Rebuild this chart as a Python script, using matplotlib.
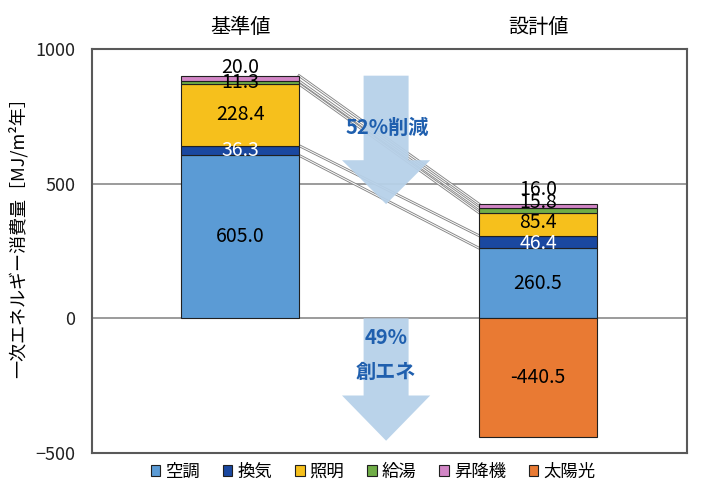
import numpy as np
import matplotlib.pyplot as plt
from matplotlib.patches import Polygon

plt.rcParams['font.family'] = ['Noto Sans CJK JP', 'DejaVu Sans']

# データ
cases = ["基準値", "設計値"]
items = ["空調", "換気", "照明", "給湯", "昇降機"]
base_vals = [605.0, 36.3, 228.4, 11.3, 20.0]
design_vals = [260.5, 46.4, 85.4, 15.8, 16.0]
solar_label = "太陽光"
solar_val = -440.5
reduce_text = "52%削減"
create_text = "49%\n創エネ"

colors = ["#5b9bd5", "#1a48a0", "#f6c01c", "#70ad47", "#d286c6"]
solar_color = "#e97a33"
label_colors = ["black", "white", "black", "black", "black"]
# ラベルの縦ずれ (pt)
base_off = [0, 0, 0, 0, 8]
design_off = [0, -1, 1, 6, 12]

fig = plt.figure(figsize=(7.04, 4.94), dpi=100)
ax = fig.add_axes([0.1307, 0.083, 0.8452, 0.8178])

x = np.arange(len(cases))
w = 0.396

handles = []
for k, vals in enumerate([base_vals, design_vals]):
    bottom = 0
    offs = base_off if k == 0 else design_off
    for i, v in enumerate(vals):
        b = ax.bar(x[k], v, w, bottom=bottom, color=colors[i],
                   edgecolor="#202020", linewidth=0.8, zorder=3)
        if k == 0:
            handles.append(b)
        ax.annotate(f"{v:.1f}", (x[k], bottom + v / 2), xytext=(0, offs[i]),
                    textcoords="offset points", ha="center", va="center",
                    fontsize=14, color=label_colors[i], zorder=5)
        bottom += v

sb = ax.bar(x[1], solar_val, w, color=solar_color, edgecolor="#202020",
            linewidth=0.8, zorder=3)
handles.append(sb)
ax.text(x[1], solar_val / 2, f"{solar_val:.1f}", ha="center", va="center",
        fontsize=14, color="black", zorder=5)

# 接続線
cb = np.cumsum(base_vals)
cd = np.cumsum(design_vals)
for y0, y1 in zip(cb, cd):
    ax.plot([x[0] + w / 2, x[1] - w / 2], [y0, y1], color="#858585", lw=2.0, zorder=2)
    ax.plot([x[0] + w / 2, x[1] - w / 2], [y0, y1], color="white", lw=0.7, zorder=2)

# 矢印
def block_arrow(xc, ytop, ytip, head_len):
    sw, hw = 0.0755, 0.148
    pts = [(xc - sw, ytop), (xc + sw, ytop), (xc + sw, ytip + head_len),
           (xc + hw, ytip + head_len), (xc, ytip), (xc - hw, ytip + head_len),
           (xc - sw, ytip + head_len)]
    ax.add_patch(Polygon(pts, closed=True, facecolor="#b7d1e9", edgecolor="none",
                         alpha=0.95, zorder=4))

xa = 0.49
block_arrow(xa, cb[-1], cd[-1], 163)
block_arrow(xa, 0, solar_val - 14, 168)
ax.text(xa + 0.005, 710, reduce_text, ha="center", va="center", fontsize=14.5,
        color="#1f5fae", fontweight="bold", zorder=6)
ax.text(xa, -135, create_text, ha="center", va="center", fontsize=14.5,
        color="#1f5fae", fontweight="bold", linespacing=1.75, zorder=6)

ax.set_xlim(-0.497, 1.5)
ax.set_ylim(-500, 1000)
ax.set_yticks([-500, 0, 500, 1000])
ax.tick_params(axis="y", length=0, pad=12, labelsize=13, colors="#222222")
ax.set_xticks(x)
ax.set_xticklabels(cases, fontsize=14.5)
ax.xaxis.tick_top()
ax.tick_params(axis="x", length=0, pad=8)
for yv in [0, 500]:
    ax.axhline(yv, color="#808080", lw=1.1, zorder=1)
for s in ax.spines.values():
    s.set_color("#595959")
    s.set_linewidth(1.5)

ax.set_ylabel("一次エネルギー消費量［MJ/m²年］", fontsize=13)
ax.yaxis.set_label_coords(-0.108, 0.545)

fig.legend(handles, items + [solar_label], loc="center", bbox_to_anchor=(0.53, 0.045),
           ncol=6, frameon=False, fontsize=12.5, handlelength=0.55, handleheight=0.55,
           handletextpad=0.3, columnspacing=1.3)

fig.savefig("out.png", dpi=100)
